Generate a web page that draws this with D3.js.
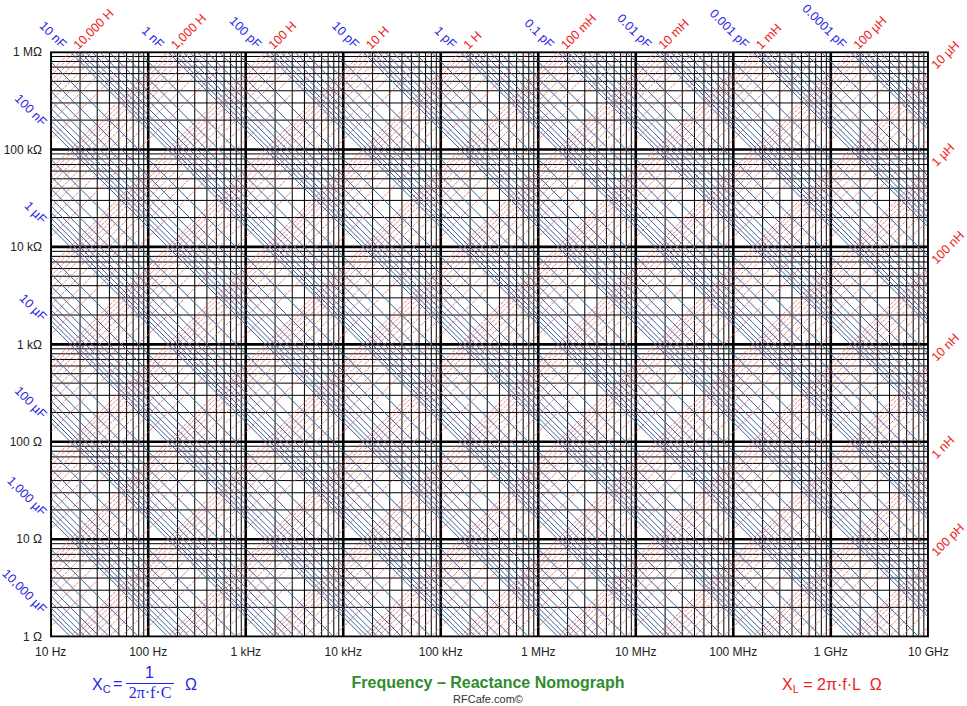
<!DOCTYPE html>
<html><head><meta charset="utf-8">
<script src="https://cdn.jsdelivr.net/npm/d3@7"></script>
<style>
body{margin:0;background:#fff}
svg{display:block}
text{font-family:"Liberation Sans",Arial,sans-serif}
</style>
</head><body>
<svg id="c" width="967" height="706"></svg>
<script>
// ---------------- data ----------------
const freqTicks = [1e1,1e2,1e3,1e4,1e5,1e6,1e7,1e8,1e9,1e10];
const freqLabels = ["10 Hz","100 Hz","1 kHz","10 kHz","100 kHz","1 MHz","10 MHz","100 MHz","1 GHz","10 GHz"];
const reactTicks = [1,10,100,1e3,1e4,1e5,1e6];
const reactLabels = ["1 Ω","10 Ω","100 Ω","1 kΩ","10 kΩ","100 kΩ","1 MΩ"];
const multiples = [1,2,3,4,5,6,7,8,9];
const capDecades = [1e-17,1e-16,1e-15,1e-14,1e-13,1e-12,1e-11,1e-10,1e-9,1e-8,1e-7,1e-6,1e-5,1e-4,1e-3,1e-2];
const capLabelValues = [1e-16,1e-15,1e-14,1e-13,1e-12,1e-11,1e-10,1e-9,1e-8,1e-7,1e-6,1e-5,1e-4,1e-3,1e-2];
const capLabels = ["0.0001 pF","0.001 pF","0.01 pF","0.1 pF","1 pF","10 pF","100 pF","1 nF","10 nF","100 nF","1 µF","10 µF","100 µF","1,000 µF","10,000 µF"];
const indDecades = [1e-12,1e-11,1e-10,1e-9,1e-8,1e-7,1e-6,1e-5,1e-4,1e-3,1e-2,1e-1,1,10,100,1e3,1e4];
const indLabelValues = [1e-10,1e-9,1e-8,1e-7,1e-6,1e-5,1e-4,1e-3,1e-2,1e-1,1,10,100,1e3,1e4];
const indLabels = ["100 pH","1 nH","10 nH","100 nH","1 µH","10 µH","100 µH","1 mH","10 mH","100 mH","1 H","10 H","100 H","1,000 H","10,000 H"];

// ---------------- chart ----------------
const svg = d3.select("#c");
const L = 50.7, R = 928.3, T = 52, B = 636.7;
const x = d3.scaleLog().domain([10,1e10]).range([L,R]);
const y = d3.scaleLog().domain([1,1e6]).range([B,T]);
const TWO_PI = 2*Math.PI;
const fMin = 10, fMax = 1e10, xMin = 1, xMax = 1e6;

svg.append("defs").append("clipPath").attr("id","plot")
  .append("rect").attr("x",L).attr("y",T).attr("width",R-L).attr("height",B-T);

const gridF = [], gridX = [];
freqTicks.slice(0,-1).forEach(d => multiples.forEach(m => gridF.push({v:d*m, dec:m===1})));
gridF.push({v:1e10, dec:true});
reactTicks.slice(0,-1).forEach(d => multiples.forEach(m => gridX.push({v:d*m, dec:m===1})));
gridX.push({v:1e6, dec:true});

const plot = svg.append("g").attr("clip-path","url(#plot)");

// grid
const bg = plot.append("g").attr("stroke","#000");
bg.selectAll("line.v").data(gridF).join("line").attr("class","v")
  .attr("stroke-width",d=>d.dec?2.6:1)
  .attr("x1",d=>x(d.v)).attr("x2",d=>x(d.v)).attr("y1",T).attr("y2",B);
bg.selectAll("line.h").data(gridX).join("line").attr("class","h")
  .attr("stroke-width",d=>d.dec?2.6:1)
  .attr("y1",d=>y(d.v)).attr("y2",d=>y(d.v)).attr("x1",L).attr("x2",R);

// inductance lines
const indVals = [];
indDecades.forEach(d => multiples.forEach(m => indVals.push(d*m)));
plot.append("g").selectAll("line").data(indVals).join("line")
  .attr("x1",x(fMin)).attr("y1",l=>y(TWO_PI*fMin*l))
  .attr("x2",x(fMax)).attr("y2",l=>y(TWO_PI*fMax*l))
  .attr("stroke","#e26a6a").attr("stroke-width",1).attr("stroke-dasharray","3 1")
  .attr("opacity",0.85);

// capacitance lines
const capVals = [];
capDecades.forEach(d => multiples.forEach(m => capVals.push(d*m)));
plot.append("g").selectAll("line").data(capVals).join("line")
  .attr("x1",x(fMin)).attr("y1",c=>y(1/(TWO_PI*fMin*c)))
  .attr("x2",x(fMax)).attr("y2",c=>y(1/(TWO_PI*fMax*c)))
  .attr("stroke","#3f6299").attr("stroke-width",1);

// frame
svg.append("rect").attr("x",L).attr("y",T).attr("width",R-L).attr("height",B-T)
  .attr("fill","none").attr("stroke","#000").attr("stroke-width",1.2);

// axis labels
svg.append("g").selectAll("text").data(freqTicks).join("text")
  .attr("x",d=>x(d)).attr("y",656).attr("text-anchor","middle")
  .attr("font-size",12).attr("fill","#222").text((d,i)=>freqLabels[i]);
svg.append("g").selectAll("text").data(reactTicks).join("text")
  .attr("x",42).attr("y",d=>y(d)).attr("dy","0.35em").attr("text-anchor","end")
  .attr("font-size",12).attr("fill","#222").text((d,i)=>reactLabels[i]);

// capacitance labels
const capG = svg.append("g");
capLabelValues.forEach((c,i) => {
  const fTop = 1/(TWO_PI*xMax*c);
  let px, py;
  if (fTop >= fMin) { px = x(fTop); py = y(xMax); }
  else { px = x(fMin); py = y(1/(TWO_PI*fMin*c)); }
  px -= 6; py -= 6;
  capG.append("text").attr("transform",`translate(${px},${py}) rotate(45)`)
    .attr("text-anchor","end").attr("dy","0.35em").attr("font-size",12.5)
    .attr("fill","#2626e6").text(capLabels[i]);
});
// inductance labels
const indG = svg.append("g");
indLabelValues.forEach((l,i) => {
  const fTop = xMax/(TWO_PI*l);
  let px, py;
  if (fTop <= fMax) { px = x(fTop); py = y(xMax); }
  else { px = x(fMax); py = y(TWO_PI*fMax*l); }
  px += 5; py -= 5;
  indG.append("text").attr("transform",`translate(${px},${py}) rotate(-45)`)
    .attr("text-anchor","start").attr("dy","0.35em").attr("font-size",12.5)
    .attr("fill","#ee2020").text(indLabels[i]);
});

// formulas & title
const fc = svg.append("g").attr("fill","#2626e6");
const xc = fc.append("text").attr("x",92).attr("y",690).attr("font-size",16);
xc.append("tspan").text("X");
xc.append("tspan").attr("font-size",11).attr("dy",3).text("C");
fc.append("text").attr("x",113).attr("y",689).attr("font-size",16).text("=");
fc.append("text").attr("x",149.5).attr("y",678).attr("font-size",16).attr("text-anchor","middle").text("1");
fc.append("line").attr("x1",126).attr("x2",174).attr("y1",683.5).attr("y2",683.5).attr("stroke","#2626e6").attr("stroke-width",1);
fc.append("text").attr("x",150).attr("y",698).attr("font-size",16).attr("text-anchor","middle")
  .style("font-family","'Liberation Serif','Times New Roman',serif").text("2π·f·C");
fc.append("text").attr("x",185).attr("y",690).attr("font-size",16).text("Ω");

const fl = svg.append("g").attr("fill","#ee2020");
const tl = fl.append("text").attr("x",782).attr("y",690).attr("font-size",16);
tl.append("tspan").text("X");
tl.append("tspan").attr("font-size",11).attr("dy",3).text("L");
tl.append("tspan").attr("dy",-3).text("\u00a0= 2π·f·L\u00a0\u00a0Ω");

svg.append("text").attr("x",488).attr("y",688).attr("text-anchor","middle")
  .attr("font-size",16).attr("font-weight","bold").attr("fill","#2e8b2e")
  .text("Frequency – Reactance Nomograph");
svg.append("text").attr("x",488).attr("y",703).attr("text-anchor","middle")
  .attr("font-size",11).attr("fill","#333").text("RFCafe.com©");
</script>
</body></html>
